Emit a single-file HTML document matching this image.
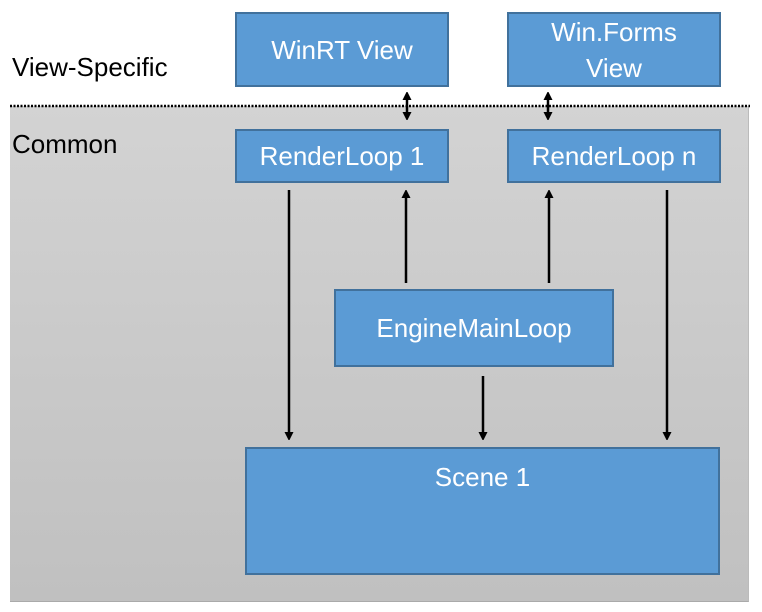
<!DOCTYPE html>
<html><head><style>
body{margin:0;width:762px;height:612px;background:#fff;position:relative;overflow:hidden;font-family:"Liberation Sans",sans-serif}
.g{position:absolute;left:10px;top:106px;width:738px;height:495px;background:linear-gradient(#d3d3d3,#c0c0c0);border-right:1px solid #bbb;border-bottom:1px solid #aaa}
.b{position:absolute;box-sizing:border-box;background:#5b9bd5;border:2px solid #41719c;color:#fff;font-size:26px;display:flex;align-items:center;justify-content:center;text-align:center;line-height:36px}
.l{position:absolute;font-size:26px;color:#000}
svg{position:absolute;left:0;top:0}
</style></head><body>
<div class="g"></div>
<div class="l" style="left:12px;top:52px">View-Specific</div>
<div class="l" style="left:12px;top:129px">Common</div>
<div class="b" style="left:235px;top:12px;width:214px;height:75px">WinRT View</div>
<div class="b" style="left:507px;top:12px;width:214px;height:75px">Win.Forms<br>View</div>
<div class="b" style="left:235px;top:129px;width:214px;height:54px">RenderLoop 1</div>
<div class="b" style="left:507px;top:129px;width:214px;height:54px">RenderLoop n</div>
<div class="b" style="left:334px;top:289px;width:280px;height:78px">EngineMainLoop</div>
<div class="b" style="left:245px;top:447px;width:475px;height:128px;align-items:flex-start;padding-top:10px">Scene 1</div>
<svg width="762" height="612">
<defs><marker id="a" markerWidth="8" markerHeight="9" refX="4" refY="4.5" orient="auto-start-reverse" markerUnits="userSpaceOnUse"><path d="M0,0 L9,4.5 L0,9z" fill="#000"/></marker></defs>
<line x1="10" y1="106" x2="750" y2="106" stroke="#000" stroke-width="2.5" stroke-dasharray="2,1.5"/>
<g stroke="#000" stroke-width="2.5" marker-end="url(#a)">
<line x1="407" y1="96" x2="407" y2="116" marker-start="url(#a)"/>
<line x1="548" y1="96" x2="548" y2="116" marker-start="url(#a)"/>
<line x1="289" y1="190" x2="289" y2="436"/>
<line x1="406" y1="283" x2="406" y2="194"/>
<line x1="549" y1="283" x2="549" y2="194"/>
<line x1="483" y1="376" x2="483" y2="436"/>
<line x1="667" y1="190" x2="667" y2="436"/>
</g>
</svg>
</body></html>
